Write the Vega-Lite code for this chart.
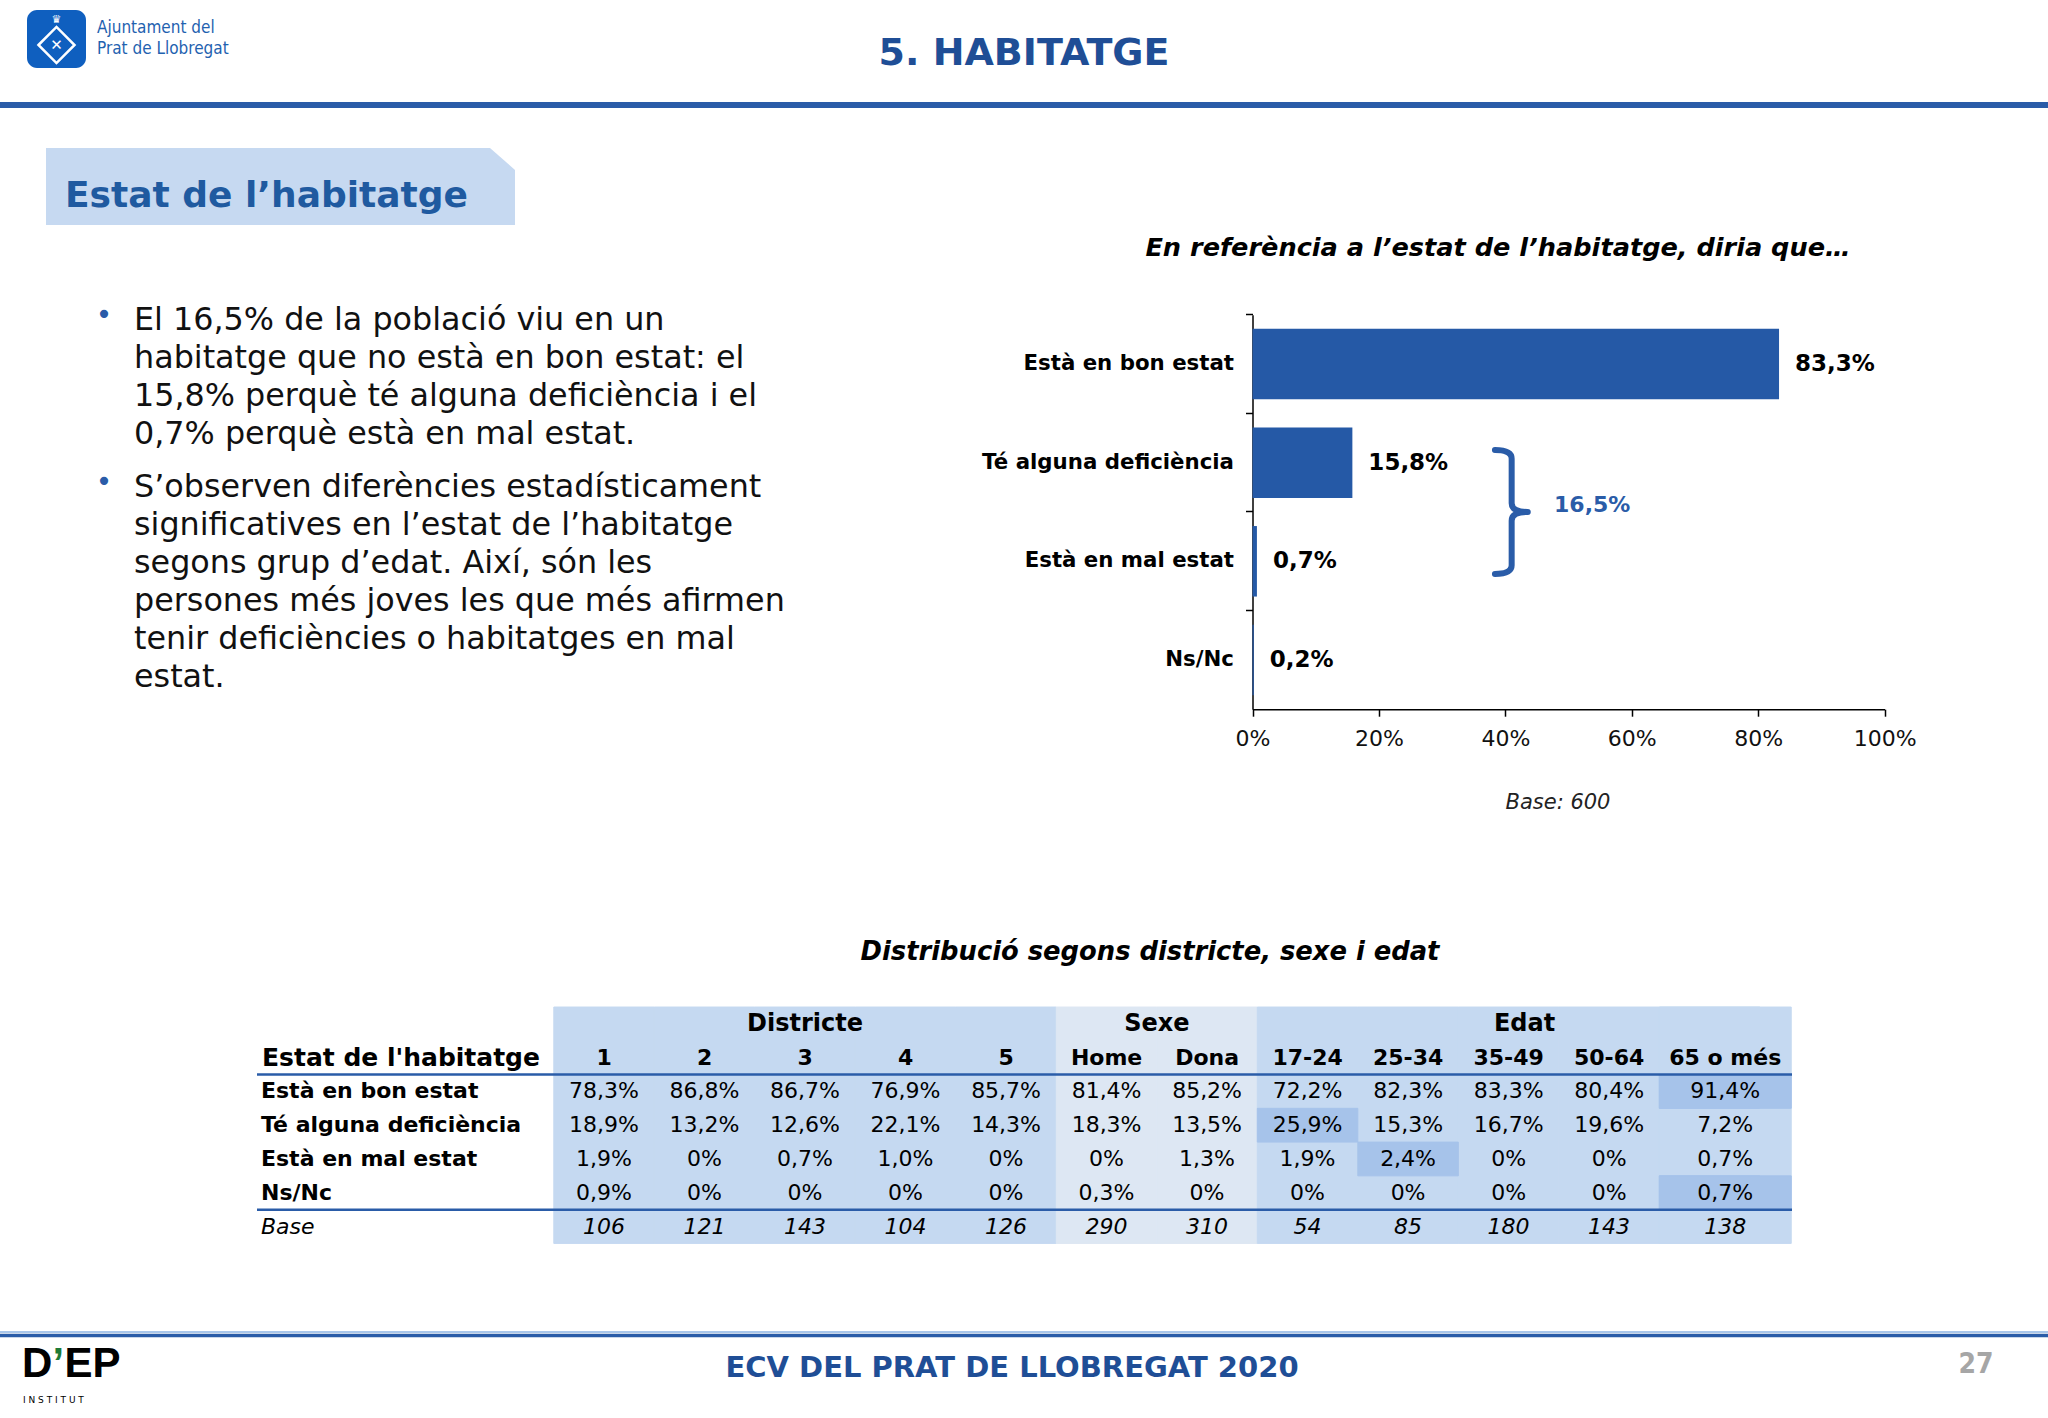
{
"$schema": "https://vega.github.io/schema/vega-lite/v6.json",
"width": 2048, "height": 1418, "autosize": {"type": "none"}, "padding": 0, "background": "#ffffff",
"config": {"view": {"stroke": null}, "font": "DejaVu Sans",
  "locale": {"number": {"decimal": ",", "thousands": ".", "grouping": [3], "currency": ["", " €"]}}},
"datasets": {
  "bars": [
    {"cat": "Està en bon estat", "pct": 0.833},
    {"cat": "Té alguna deficiència", "pct": 0.158},
    {"cat": "Està en mal estat", "pct": 0.007},
    {"cat": "Ns/Nc", "pct": 0.002}
  ],
  "cols": [
    {"col": "1", "grp": "Districte"}, {"col": "2", "grp": "Districte"}, {"col": "3", "grp": "Districte"},
    {"col": "4", "grp": "Districte"}, {"col": "5", "grp": "Districte"},
    {"col": "Home", "grp": "Sexe"}, {"col": "Dona", "grp": "Sexe"},
    {"col": "17-24", "grp": "Edat"}, {"col": "25-34", "grp": "Edat"}, {"col": "35-49", "grp": "Edat"},
    {"col": "50-64", "grp": "Edat"}, {"col": "65 o més", "grp": "Edat"}
  ],
  "rowlabels": [
    {"row": "Està en bon estat"}, {"row": "Té alguna deficiència"}, {"row": "Està en mal estat"}, {"row": "Ns/Nc"}
  ],
  "cells": [
    {"row": "Està en bon estat", "col": "1", "grp": "Districte", "v": 0.783},
    {"row": "Està en bon estat", "col": "2", "grp": "Districte", "v": 0.868},
    {"row": "Està en bon estat", "col": "3", "grp": "Districte", "v": 0.867},
    {"row": "Està en bon estat", "col": "4", "grp": "Districte", "v": 0.769},
    {"row": "Està en bon estat", "col": "5", "grp": "Districte", "v": 0.857},
    {"row": "Està en bon estat", "col": "Home", "grp": "Sexe", "v": 0.814},
    {"row": "Està en bon estat", "col": "Dona", "grp": "Sexe", "v": 0.852},
    {"row": "Està en bon estat", "col": "17-24", "grp": "Edat", "v": 0.722},
    {"row": "Està en bon estat", "col": "25-34", "grp": "Edat", "v": 0.823},
    {"row": "Està en bon estat", "col": "35-49", "grp": "Edat", "v": 0.833},
    {"row": "Està en bon estat", "col": "50-64", "grp": "Edat", "v": 0.804},
    {"row": "Està en bon estat", "col": "65 o més", "grp": "Edat", "v": 0.914, "sig": true},
    {"row": "Té alguna deficiència", "col": "1", "grp": "Districte", "v": 0.189},
    {"row": "Té alguna deficiència", "col": "2", "grp": "Districte", "v": 0.132},
    {"row": "Té alguna deficiència", "col": "3", "grp": "Districte", "v": 0.126},
    {"row": "Té alguna deficiència", "col": "4", "grp": "Districte", "v": 0.221},
    {"row": "Té alguna deficiència", "col": "5", "grp": "Districte", "v": 0.143},
    {"row": "Té alguna deficiència", "col": "Home", "grp": "Sexe", "v": 0.183},
    {"row": "Té alguna deficiència", "col": "Dona", "grp": "Sexe", "v": 0.135},
    {"row": "Té alguna deficiència", "col": "17-24", "grp": "Edat", "v": 0.259, "sig": true},
    {"row": "Té alguna deficiència", "col": "25-34", "grp": "Edat", "v": 0.153},
    {"row": "Té alguna deficiència", "col": "35-49", "grp": "Edat", "v": 0.167},
    {"row": "Té alguna deficiència", "col": "50-64", "grp": "Edat", "v": 0.196},
    {"row": "Té alguna deficiència", "col": "65 o més", "grp": "Edat", "v": 0.072},
    {"row": "Està en mal estat", "col": "1", "grp": "Districte", "v": 0.019},
    {"row": "Està en mal estat", "col": "2", "grp": "Districte", "v": 0},
    {"row": "Està en mal estat", "col": "3", "grp": "Districte", "v": 0.007},
    {"row": "Està en mal estat", "col": "4", "grp": "Districte", "v": 0.010},
    {"row": "Està en mal estat", "col": "5", "grp": "Districte", "v": 0},
    {"row": "Està en mal estat", "col": "Home", "grp": "Sexe", "v": 0},
    {"row": "Està en mal estat", "col": "Dona", "grp": "Sexe", "v": 0.013},
    {"row": "Està en mal estat", "col": "17-24", "grp": "Edat", "v": 0.019},
    {"row": "Està en mal estat", "col": "25-34", "grp": "Edat", "v": 0.024, "sig": true},
    {"row": "Està en mal estat", "col": "35-49", "grp": "Edat", "v": 0},
    {"row": "Està en mal estat", "col": "50-64", "grp": "Edat", "v": 0},
    {"row": "Està en mal estat", "col": "65 o més", "grp": "Edat", "v": 0.007},
    {"row": "Ns/Nc", "col": "1", "grp": "Districte", "v": 0.009},
    {"row": "Ns/Nc", "col": "2", "grp": "Districte", "v": 0},
    {"row": "Ns/Nc", "col": "3", "grp": "Districte", "v": 0},
    {"row": "Ns/Nc", "col": "4", "grp": "Districte", "v": 0},
    {"row": "Ns/Nc", "col": "5", "grp": "Districte", "v": 0},
    {"row": "Ns/Nc", "col": "Home", "grp": "Sexe", "v": 0.003},
    {"row": "Ns/Nc", "col": "Dona", "grp": "Sexe", "v": 0},
    {"row": "Ns/Nc", "col": "17-24", "grp": "Edat", "v": 0},
    {"row": "Ns/Nc", "col": "25-34", "grp": "Edat", "v": 0},
    {"row": "Ns/Nc", "col": "35-49", "grp": "Edat", "v": 0},
    {"row": "Ns/Nc", "col": "50-64", "grp": "Edat", "v": 0},
    {"row": "Ns/Nc", "col": "65 o més", "grp": "Edat", "v": 0.007, "sig": true}
  ],
  "base": [
    {"col": "1", "grp": "Districte", "n": 106}, {"col": "2", "grp": "Districte", "n": 121},
    {"col": "3", "grp": "Districte", "n": 143}, {"col": "4", "grp": "Districte", "n": 104},
    {"col": "5", "grp": "Districte", "n": 126}, {"col": "Home", "grp": "Sexe", "n": 290},
    {"col": "Dona", "grp": "Sexe", "n": 310}, {"col": "17-24", "grp": "Edat", "n": 54},
    {"col": "25-34", "grp": "Edat", "n": 85}, {"col": "35-49", "grp": "Edat", "n": 180},
    {"col": "50-64", "grp": "Edat", "n": 143}, {"col": "65 o més", "grp": "Edat", "n": 138}
  ]
},
"layer": [
  {"data": {"values": [{}]}, "mark": {"type": "rect", "fill": "#0f5fbf", "cornerRadius": 10},
   "encoding": {"x": {"value": 27}, "x2": {"value": 86}, "y": {"value": 10}, "y2": {"value": 68}}},
  {"data": {"values": [{}]}, "mark": {"type": "point", "shape": "diamond", "filled": false, "stroke": "#ffffff", "strokeWidth": 2.5, "size": 1300, "opacity": 1},
   "encoding": {"x": {"value": 56.5}, "y": {"value": 45}}},
  {"data": {"values": [{}]}, "mark": {"type": "text", "text": "♛", "fontSize": 11, "color": "#ffffff", "align": "center", "baseline": "middle"},
   "encoding": {"x": {"value": 56.5}, "y": {"value": 20}}},
  {"data": {"values": [{}]}, "mark": {"type": "text", "text": "✕", "fontSize": 15, "color": "#ffffff", "align": "center", "baseline": "middle"},
   "encoding": {"x": {"value": 56.5}, "y": {"value": 45}}},
  {"data": {"values": [{}]}, "mark": {"type": "text", "text": ["Ajuntament del", "Prat de Llobregat"], "lineHeight": 21, "fontSize": 17, "font": "Liberation Sans Narrow, DejaVu Sans Condensed, Roboto Condensed, DejaVu Sans", "color": "#1f62b0", "align": "left", "baseline": "top"},
   "encoding": {"x": {"value": 97}, "y": {"value": 20}}},
  {"data": {"values": [{}]}, "mark": {"type": "text", "text": "5. HABITATGE", "fontSize": 38, "fontWeight": "bold", "color": "#1f4e96", "align": "center", "baseline": "middle"},
   "encoding": {"x": {"value": 1024}, "y": {"value": 54}}},
  {"data": {"values": [{}]}, "mark": {"type": "rule", "color": "#2a5ca8", "strokeWidth": 6},
   "encoding": {"x": {"value": 0}, "x2": {"value": 2048}, "y": {"value": 105}}},
  {"data": {"values": [{}]}, "mark": {"type": "point", "shape": "M -1 -0.1642 L 0.8934 -0.1642 L 1 -0.0704 L 1 0.1642 L -1 0.1642 Z", "filled": true, "fill": "#c6d9f1", "strokeWidth": 0, "size": 219961, "opacity": 1},
   "encoding": {"x": {"value": 280.5}, "y": {"value": 186.5}}},
  {"data": {"values": [{}]}, "mark": {"type": "text", "text": "Estat de l’habitatge", "fontSize": 36, "fontWeight": "bold", "color": "#1f5aa0", "align": "left", "baseline": "middle"},
   "encoding": {"x": {"value": 65}, "y": {"value": 195.5}}},
  {"data": {"values": [{}]}, "mark": {"type": "text", "text": "•", "fontSize": 28, "color": "#2a5ca8", "align": "center", "baseline": "middle"},
   "encoding": {"x": {"value": 104}, "y": {"value": 316}}},
  {"data": {"values": [{}]}, "mark": {"type": "text", "text": "•", "fontSize": 28, "color": "#2a5ca8", "align": "center", "baseline": "middle"},
   "encoding": {"x": {"value": 104}, "y": {"value": 483}}},
  {"data": {"values": [{}]}, "mark": {"type": "text", "text": ["El 16,5% de la població viu en un", "habitatge que no està en bon estat: el", "15,8% perquè té alguna deficiència i el", "0,7% perquè està en mal estat."], "lineHeight": 37.9, "fontSize": 31.8, "color": "#111111", "align": "left", "baseline": "top"},
   "encoding": {"x": {"value": 134}, "y": {"value": 305}}},
  {"data": {"values": [{}]}, "mark": {"type": "text", "text": ["S’observen diferències estadísticament", "significatives en l’estat de l’habitatge", "segons grup d’edat. Així, són les", "persones més joves les que més afirmen", "tenir deficiències o habitatges en mal", "estat."], "lineHeight": 37.9, "fontSize": 31.8, "color": "#111111", "align": "left", "baseline": "top"},
   "encoding": {"x": {"value": 134}, "y": {"value": 472}}},
  {"data": {"values": [{}]}, "mark": {"type": "text", "text": "En referència a l’estat de l’habitatge, diria que…", "fontSize": 25.6, "fontWeight": "bold", "fontStyle": "italic", "color": "#000000", "align": "center", "baseline": "middle"},
   "encoding": {"x": {"value": 1498}, "y": {"value": 248}}},
  {"data": {"values": [{}]}, "mark": {"type": "text", "text": "Base: 600", "fontSize": 21, "fontStyle": "italic", "color": "#222222", "align": "center", "baseline": "middle"},
   "encoding": {"x": {"value": 1558}, "y": {"value": 803}}},
  {"data": {"values": [{}]}, "mark": {"type": "text", "text": "Distribució segons districte, sexe i edat", "fontSize": 25.8, "fontWeight": "bold", "fontStyle": "italic", "color": "#000000", "align": "center", "baseline": "middle"},
   "encoding": {"x": {"value": 1150}, "y": {"value": 952}}},
  {"data": {"values": [{}]}, "mark": {"type": "rule", "color": "#a9c6ea", "strokeWidth": 2},
   "encoding": {"x": {"value": 0}, "x2": {"value": 2048}, "y": {"value": 1332}}},
  {"data": {"values": [{}]}, "mark": {"type": "rule", "color": "#2a5ca8", "strokeWidth": 3.5},
   "encoding": {"x": {"value": 0}, "x2": {"value": 2048}, "y": {"value": 1335.5}}},
  {"data": {"values": [{}]}, "mark": {"type": "text", "text": "ECV DEL PRAT DE LLOBREGAT 2020", "fontSize": 29, "fontWeight": "bold", "color": "#1f4e96", "align": "center", "baseline": "middle"},
   "encoding": {"x": {"value": 1012}, "y": {"value": 1368}}},
  {"data": {"values": [{}]}, "mark": {"type": "text", "text": "27", "fontSize": 28, "fontWeight": "bold", "font": "Liberation Sans Narrow, DejaVu Sans Condensed, DejaVu Sans", "color": "#a6a6a6", "align": "center", "baseline": "middle"},
   "encoding": {"x": {"value": 1976}, "y": {"value": 1365}}},
  {"data": {"values": [{}]}, "mark": {"type": "text", "text": "D", "fontSize": 42, "fontWeight": "bold", "font": "Liberation Sans", "color": "#000000", "align": "left", "baseline": "middle"},
   "encoding": {"x": {"value": 22}, "y": {"value": 1364}}},
  {"data": {"values": [{}]}, "mark": {"type": "text", "text": "’", "fontSize": 42, "fontWeight": "bold", "font": "Liberation Sans", "color": "#1e7a36", "align": "left", "baseline": "middle"},
   "encoding": {"x": {"value": 52.5}, "y": {"value": 1364}}},
  {"data": {"values": [{}]}, "mark": {"type": "text", "text": "EP", "fontSize": 42, "fontWeight": "bold", "font": "Liberation Sans", "color": "#000000", "align": "left", "baseline": "middle"},
   "encoding": {"x": {"value": 64.5}, "y": {"value": 1364}}},
  {"data": {"values": [{}]}, "mark": {"type": "text", "text": "I N S T I T U T", "fontSize": 9, "color": "#000000", "align": "left", "baseline": "middle"},
   "encoding": {"x": {"value": 23}, "y": {"value": 1400}}},
  {
    "layer": [
      {"data": {"name": "bars"}, "mark": {"type": "bar", "color": "#2559a6"},
       "encoding": {
         "x": {"field": "pct", "type": "quantitative", "scale": {"domain": [0, 1], "range": [1252.5, 1884.6], "nice": false},
               "axis": {"orient": "bottom", "offset": -708.8, "format": ".0%", "values": [0, 0.2, 0.4, 0.6, 0.8, 1], "tickSize": 7, "labelPadding": 12, "labelFontSize": 22, "labelFont": "DejaVu Sans", "labelColor": "#111111", "domainColor": "#000000", "tickColor": "#000000", "domainWidth": 1.5, "tickWidth": 1.5, "grid": false, "title": null, "labelFlush": false, "labelOverlap": false}},
         "y": {"field": "cat", "type": "nominal", "sort": null, "scale": {"domain": ["Està en bon estat", "Té alguna deficiència", "Està en mal estat", "Ns/Nc"], "range": [314.8, 709.2], "paddingInner": 0.285, "paddingOuter": 0.1425},
               "axis": {"orient": "left", "offset": -1252.5, "bandPosition": -0.2, "tickSize": 7, "labelPadding": 12, "labelFontSize": 21.3, "labelFontWeight": "bold", "labelFont": "DejaVu Sans", "labelColor": "#000000", "domainColor": "#000000", "tickColor": "#000000", "domainWidth": 1.5, "tickWidth": 1.5, "title": null, "labelLimit": 0, "grid": false}}
       }},
      {"data": {"name": "bars"}, "mark": {"type": "text", "align": "left", "baseline": "middle", "dx": 16, "fontSize": 23, "fontWeight": "bold", "color": "#000000"},
       "encoding": {
         "x": {"field": "pct", "type": "quantitative"},
         "y": {"field": "cat", "type": "nominal", "sort": null},
         "text": {"field": "pct", "type": "quantitative", "format": ".1%"}
       }},
      {"data": {"values": [{}]}, "mark": {"type": "point", "shape": "M -0.27 -1 Q 0 -1 0 -0.86 L 0 -0.14 Q 0 0 0.26 0 Q 0 0 0 0.14 L 0 0.86 Q 0 1 -0.27 1", "filled": false, "stroke": "#2a5ca8", "strokeWidth": 6, "size": 15376, "opacity": 1, "strokeCap": "round", "strokeJoin": "round"},
       "encoding": {
         "x": {"datum": 0.41, "type": "quantitative"},
         "y": {"datum": "Està en mal estat", "type": "nominal", "bandPosition": -0.2}
       }},
      {"data": {"values": [{}]}, "mark": {"type": "text", "text": "16,5%", "align": "left", "baseline": "middle", "dy": -7, "fontSize": 22, "fontWeight": "bold", "color": "#2a5ca8"},
       "encoding": {
         "x": {"datum": 0.477, "type": "quantitative"},
         "y": {"datum": "Està en mal estat", "type": "nominal", "bandPosition": -0.2}
       }}
    ]
  },
  {
    "layer": [
      {"data": {"name": "cols"}, "mark": {"type": "rect", "strokeWidth": 1, "height": {"band": 7}, "yOffset": 101.34},
       "encoding": {
         "x": {"field": "col", "type": "nominal", "scale": {"domain": ["1","2","3","4","5","Home","Dona","17-24","25-34","35-49","50-64","65 o més"], "range": [553.8, 1791.8], "paddingInner": 0, "paddingOuter": 0.159, "align": 0}, "axis": null},
         "y": {"datum": "h1", "type": "nominal", "scale": {"domain": ["h1","h2","Està en bon estat","Té alguna deficiència","Està en mal estat","Ns/Nc","Base"], "range": [1007, 1243.4], "paddingInner": 0, "paddingOuter": 0}, "axis": null},
         "color": {"field": "grp", "type": "nominal", "scale": {"domain": ["Districte", "Sexe", "Edat"], "range": ["#c5d9f1", "#dde7f3", "#c5d9f1"]}, "legend": null},
         "stroke": {"field": "grp", "type": "nominal", "scale": {"domain": ["Districte", "Sexe", "Edat"], "range": ["#c5d9f1", "#dde7f3", "#c5d9f1"]}, "legend": null}
       }},
      {"data": {"name": "cols"}, "transform": [{"filter": "datum.col === '65 o més'"}], "mark": {"type": "rect", "strokeWidth": 1, "height": {"band": 7}, "yOffset": 101.34, "width": {"band": 1.3125}, "xOffset": 15.7},
       "encoding": {
         "x": {"field": "col", "type": "nominal"},
         "y": {"datum": "h1", "type": "nominal"},
         "color": {"field": "grp", "type": "nominal", "legend": null},
         "stroke": {"field": "grp", "type": "nominal", "legend": null}
       }},
      {"data": {"name": "cells"}, "transform": [{"filter": "datum.sig === true"}], "mark": {"type": "rect", "fill": "#a6c3ea", "stroke": "#a6c3ea", "strokeWidth": 1},
       "encoding": {
         "x": {"field": "col", "type": "nominal"},
         "y": {"field": "row", "type": "nominal"}
       }},
      {"data": {"name": "cells"}, "transform": [{"filter": "datum.sig === true && datum.col === '65 o més'"}], "mark": {"type": "rect", "fill": "#a6c3ea", "stroke": "#a6c3ea", "strokeWidth": 1, "width": {"band": 1.3125}, "xOffset": 15.7},
       "encoding": {
         "x": {"field": "col", "type": "nominal"},
         "y": {"field": "row", "type": "nominal"}
       }},
      {"data": {"values": [{"row": "Està en bon estat"}, {"row": "Base"}]}, "mark": {"type": "rule", "color": "#2a5ca8", "strokeWidth": 2.5},
       "encoding": {
         "y": {"field": "row", "type": "nominal", "bandPosition": 0},
         "x": {"value": 257}, "x2": {"value": 1792}
       }},
      {"data": {"values": [{"grp": "Districte", "col": "3"}]}, "mark": {"type": "text", "fontSize": 24, "fontWeight": "bold", "color": "#000000", "align": "center", "baseline": "middle"},
       "encoding": {
         "x": {"field": "col", "type": "nominal"},
         "y": {"datum": "h1", "type": "nominal"},
         "text": {"field": "grp"}
       }},
      {"data": {"values": [{"grp": "Edat", "col": "35-49"}]}, "mark": {"type": "text", "fontSize": 24, "fontWeight": "bold", "color": "#000000", "align": "center", "baseline": "middle", "dx": 16},
       "encoding": {
         "x": {"field": "col", "type": "nominal"},
         "y": {"datum": "h1", "type": "nominal"},
         "text": {"field": "grp"}
       }},
      {"data": {"values": [{"grp": "Sexe", "col": "Dona"}]}, "mark": {"type": "text", "fontSize": 24, "fontWeight": "bold", "color": "#000000", "align": "center", "baseline": "middle"},
       "encoding": {
         "x": {"field": "col", "type": "nominal", "bandPosition": 0},
         "y": {"datum": "h1", "type": "nominal"},
         "text": {"field": "grp"}
       }},
      {"data": {"name": "cols"}, "transform": [{"filter": "datum.col !== '65 o més'"}], "mark": {"type": "text", "fontSize": 22, "fontWeight": "bold", "color": "#000000", "align": "center", "baseline": "middle"},
       "encoding": {
         "x": {"field": "col", "type": "nominal"},
         "y": {"datum": "h2", "type": "nominal"},
         "text": {"field": "col"}
       }},
      {"data": {"name": "cols"}, "transform": [{"filter": "datum.col === '65 o més'"}], "mark": {"type": "text", "fontSize": 22, "fontWeight": "bold", "color": "#000000", "align": "center", "baseline": "middle", "dx": 15.7},
       "encoding": {
         "x": {"field": "col", "type": "nominal"},
         "y": {"datum": "h2", "type": "nominal"},
         "text": {"field": "col"}
       }},
      {"data": {"name": "cells"}, "transform": [{"filter": "datum.col !== '65 o més'"}], "mark": {"type": "text", "fontSize": 22, "color": "#000000", "align": "center", "baseline": "middle"},
       "encoding": {
         "x": {"field": "col", "type": "nominal"},
         "y": {"field": "row", "type": "nominal"},
         "text": {"condition": {"test": "datum.v === 0", "value": "0%"}, "field": "v", "type": "quantitative", "format": ".1%"}
       }},
      {"data": {"name": "cells"}, "transform": [{"filter": "datum.col === '65 o més'"}], "mark": {"type": "text", "fontSize": 22, "color": "#000000", "align": "center", "baseline": "middle", "dx": 15.7},
       "encoding": {
         "x": {"field": "col", "type": "nominal"},
         "y": {"field": "row", "type": "nominal"},
         "text": {"condition": {"test": "datum.v === 0", "value": "0%"}, "field": "v", "type": "quantitative", "format": ".1%"}
       }},
      {"data": {"name": "base"}, "transform": [{"filter": "datum.col !== '65 o més'"}], "mark": {"type": "text", "fontSize": 22, "fontStyle": "italic", "color": "#000000", "align": "center", "baseline": "middle"},
       "encoding": {
         "x": {"field": "col", "type": "nominal"},
         "y": {"datum": "Base", "type": "nominal"},
         "text": {"field": "n", "type": "quantitative"}
       }},
      {"data": {"name": "base"}, "transform": [{"filter": "datum.col === '65 o més'"}], "mark": {"type": "text", "fontSize": 22, "fontStyle": "italic", "color": "#000000", "align": "center", "baseline": "middle", "dx": 15.7},
       "encoding": {
         "x": {"field": "col", "type": "nominal"},
         "y": {"datum": "Base", "type": "nominal"},
         "text": {"field": "n", "type": "quantitative"}
       }},
      {"data": {"name": "rowlabels"}, "mark": {"type": "text", "fontSize": 22, "fontWeight": "bold", "color": "#000000", "align": "left", "baseline": "middle"},
       "encoding": {
         "x": {"value": 261},
         "y": {"field": "row", "type": "nominal"},
         "text": {"field": "row"}
       }},
      {"data": {"values": [{}]}, "mark": {"type": "text", "text": "Estat de l'habitatge", "fontSize": 25, "fontWeight": "bold", "color": "#000000", "align": "left", "baseline": "middle"},
       "encoding": {
         "x": {"value": 262},
         "y": {"datum": "h2", "type": "nominal"}
       }},
      {"data": {"values": [{}]}, "mark": {"type": "text", "text": "Base", "fontSize": 22, "fontStyle": "italic", "color": "#000000", "align": "left", "baseline": "middle"},
       "encoding": {
         "x": {"value": 261},
         "y": {"datum": "Base", "type": "nominal"}
       }}
    ]
  }
],
"resolve": {"scale": {"x": "independent", "y": "independent", "color": "independent", "stroke": "independent"}}
}
